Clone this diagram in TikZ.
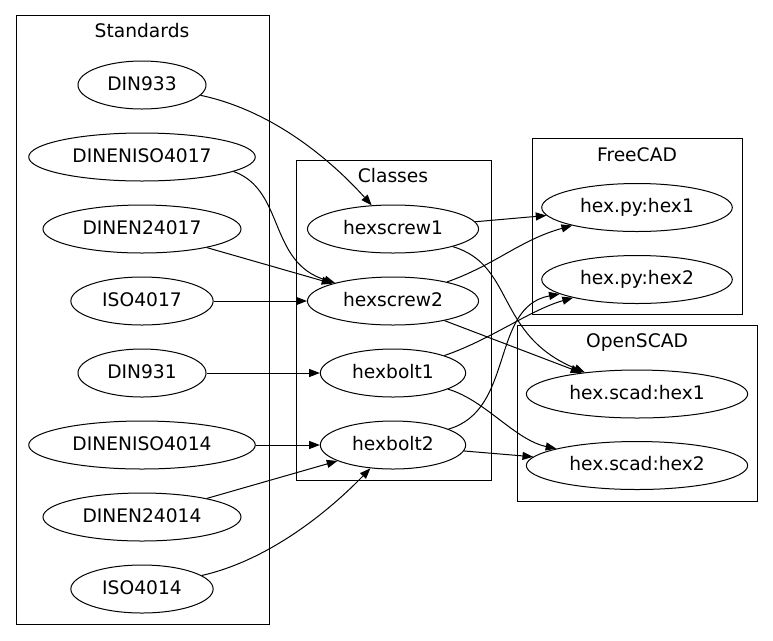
\documentclass[tikz,border=0pt]{standalone}
\usepackage{fontspec}
\setmainfont{DejaVu Sans}
\usetikzlibrary{shapes.geometric, arrows.meta}

\begin{document}
\begin{tikzpicture}[x = 0.75pt, y = -0.75pt, line width = 0.75pt,
		font = \fontsize{14pt}{17pt}\selectfont,
		part/.style = {ellipse, draw, minimum height = 36pt, inner xsep = 7.9pt, text height = 10pt, text depth = 2pt},
		grplabel/.style = {inner sep = 0pt, text height = 10pt, text depth = 2pt},
		link/.style = {-{Triangle[length = 8pt, width = 6pt]}}]
			\def\sx{142};
			\def\cx{393};
			\def\fx{637};

			\useasboundingbox (0,0) rectangle (773,640);

			\begin{scope}
				\draw (16,15) rectangle (269,624);
				\node [grplabel] (standards) at (\sx,32) {Standards};
				\node [part] (din933) at (\sx,85) {DIN933};
				\node [part] (dineniso4017) at (\sx,157) {DINENISO4017};
				\node [part] (dinen24017) at (\sx,229) {DINEN24017};
				\node [part] (iso4017) at (\sx,301) {ISO4017};
				\node [part] (din931) at (\sx,373) {DIN931};
				\node [part] (dineniso4014) at (\sx,445) {DINENISO4014};
				\node [part] (dinen24014) at (\sx,517) {DINEN24014};
				\node [part] (iso4014) at (\sx,589) {ISO4014};
			\end{scope}

			\begin{scope}
				\draw (296,160) rectangle (491,480);
				\node [grplabel] (classes) at (\cx,177) {Classes};
				\node [part] (hexscrew1) at (\cx,229) {hexscrew1};
				\node [part] (hexscrew2) at (\cx,301) {hexscrew2};
				\node [part] (hexbolt1) at (\cx,373) {hexbolt1};
				\node [part] (hexbolt2) at (\cx,445) {hexbolt2};
			\end{scope}

			\begin{scope}
				\draw (532,138) rectangle (742,314);
				\node [grplabel] (freecad) at (\fx,156) {FreeCAD};
				\node [part] (hexpy1) at (\fx,207.5) {hex.py:hex1};
				\node [part] (hexpy2) at (\fx,279.5) {hex.py:hex2};
			\end{scope}

			\begin{scope}
				\draw (517,325) rectangle (757,501);
				\node [grplabel] (openscad) at (\fx,342) {OpenSCAD};
				\node [part] (hexscad1) at (\fx,394) {hex.scad:hex1};
				\node [part] (hexscad2) at (\fx,465.5) {hex.scad:hex2};
			\end{scope}

			\begin{scope}[link]
				\draw (din933.-10) .. controls (280,112) and (340,170) .. (hexscrew1);
				\draw (dineniso4017.-9) .. controls (285,190) and (268,262) .. (hexscrew2);
				\draw (dinen24017) -- (hexscrew2);
				\draw (iso4017) -- (hexscrew2);
				\draw (din931) -- (hexbolt1);
				\draw (dineniso4014) -- (hexbolt2);
				\draw (dinen24014) -- (hexbolt2);
				\draw (iso4014) .. controls (270,560) and (330,510) .. (hexbolt2);

				\draw (hexscrew1) -- (hexpy1);
				\draw (hexscrew1) .. controls (515,265) and (495,335) .. (hexscad1);
				\draw (hexscrew2) .. controls (495,265) and (520,240) .. (hexpy1);
				\draw (hexscrew2) -- (hexscad1);
				\draw (hexbolt1) .. controls (490,340) and (530,310) .. (hexpy2);
				\draw (hexbolt1) .. controls (485,400) and (515,440) .. (hexscad2);
				\draw (hexbolt2) .. controls (515,410) and (490,307) .. (hexpy2);
				\draw (hexbolt2) -- (hexscad2);
			\end{scope}
		\end{tikzpicture}
\end{document}
